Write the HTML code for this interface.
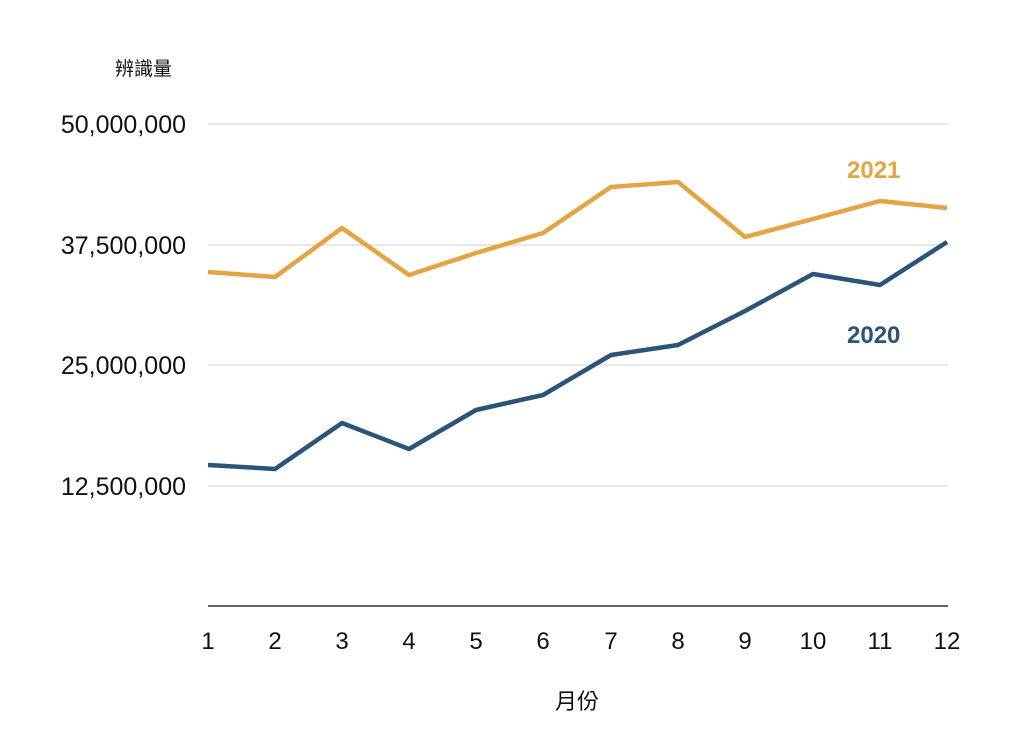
<!DOCTYPE html>
<html><head><meta charset="utf-8"><style>
body{margin:0;background:#fff;}
svg{display:block;font-family:"Liberation Sans","Noto Sans CJK TC",sans-serif;}
</style></head><body>
<svg width="1024" height="746" viewBox="0 0 1024 746" xmlns="http://www.w3.org/2000/svg">
<rect width="1024" height="746" fill="#fff"/>
<g stroke="#cfcfcf" stroke-width="1">
<line x1="208" y1="124" x2="948" y2="124"/>
<line x1="208" y1="245" x2="948" y2="245"/>
<line x1="208" y1="365" x2="948" y2="365"/>
<line x1="208" y1="486" x2="948" y2="486"/>
</g>
<line x1="208" y1="606" x2="948" y2="606" stroke="#333" stroke-width="1.5"/>
<g font-size="25" fill="#111" text-anchor="end">
<text x="186" y="133">50,000,000</text>
<text x="186" y="254">37,500,000</text>
<text x="186" y="374">25,000,000</text>
<text x="186" y="495">12,500,000</text>
</g>
<text x="115" y="75" font-size="19" fill="#111">辨識量</text>
<g font-size="24" fill="#111" text-anchor="middle">
<text x="208" y="649">1</text><text x="275" y="649">2</text><text x="342" y="649">3</text>
<text x="409" y="649">4</text><text x="476" y="649">5</text><text x="543" y="649">6</text>
<text x="611" y="649">7</text><text x="678" y="649">8</text><text x="745" y="649">9</text>
<text x="813" y="649">10</text><text x="880" y="649">11</text><text x="947" y="649">12</text>
</g>
<text x="577" y="709" font-size="22" fill="#111" text-anchor="middle">月份</text>
<polyline fill="none" stroke="#E4A443" stroke-width="4.5" stroke-linejoin="round"
points="208,272 275,277 342,228 409,275 476,253 543,233 611,187 678,182 745,237 813,219 880,201 947,208"/>
<polyline fill="none" stroke="#2B5478" stroke-width="4.5" stroke-linejoin="round"
points="208,465 275,469 342,423 409,449 476,410 543,395 611,355 678,345 745,311 813,274 880,285 947,242"/>
<text x="847" y="178" font-size="24" font-weight="bold" fill="#E4A443">2021</text>
<text x="847" y="343" font-size="24" font-weight="bold" fill="#2B5478">2020</text>
</svg>
</body></html>
